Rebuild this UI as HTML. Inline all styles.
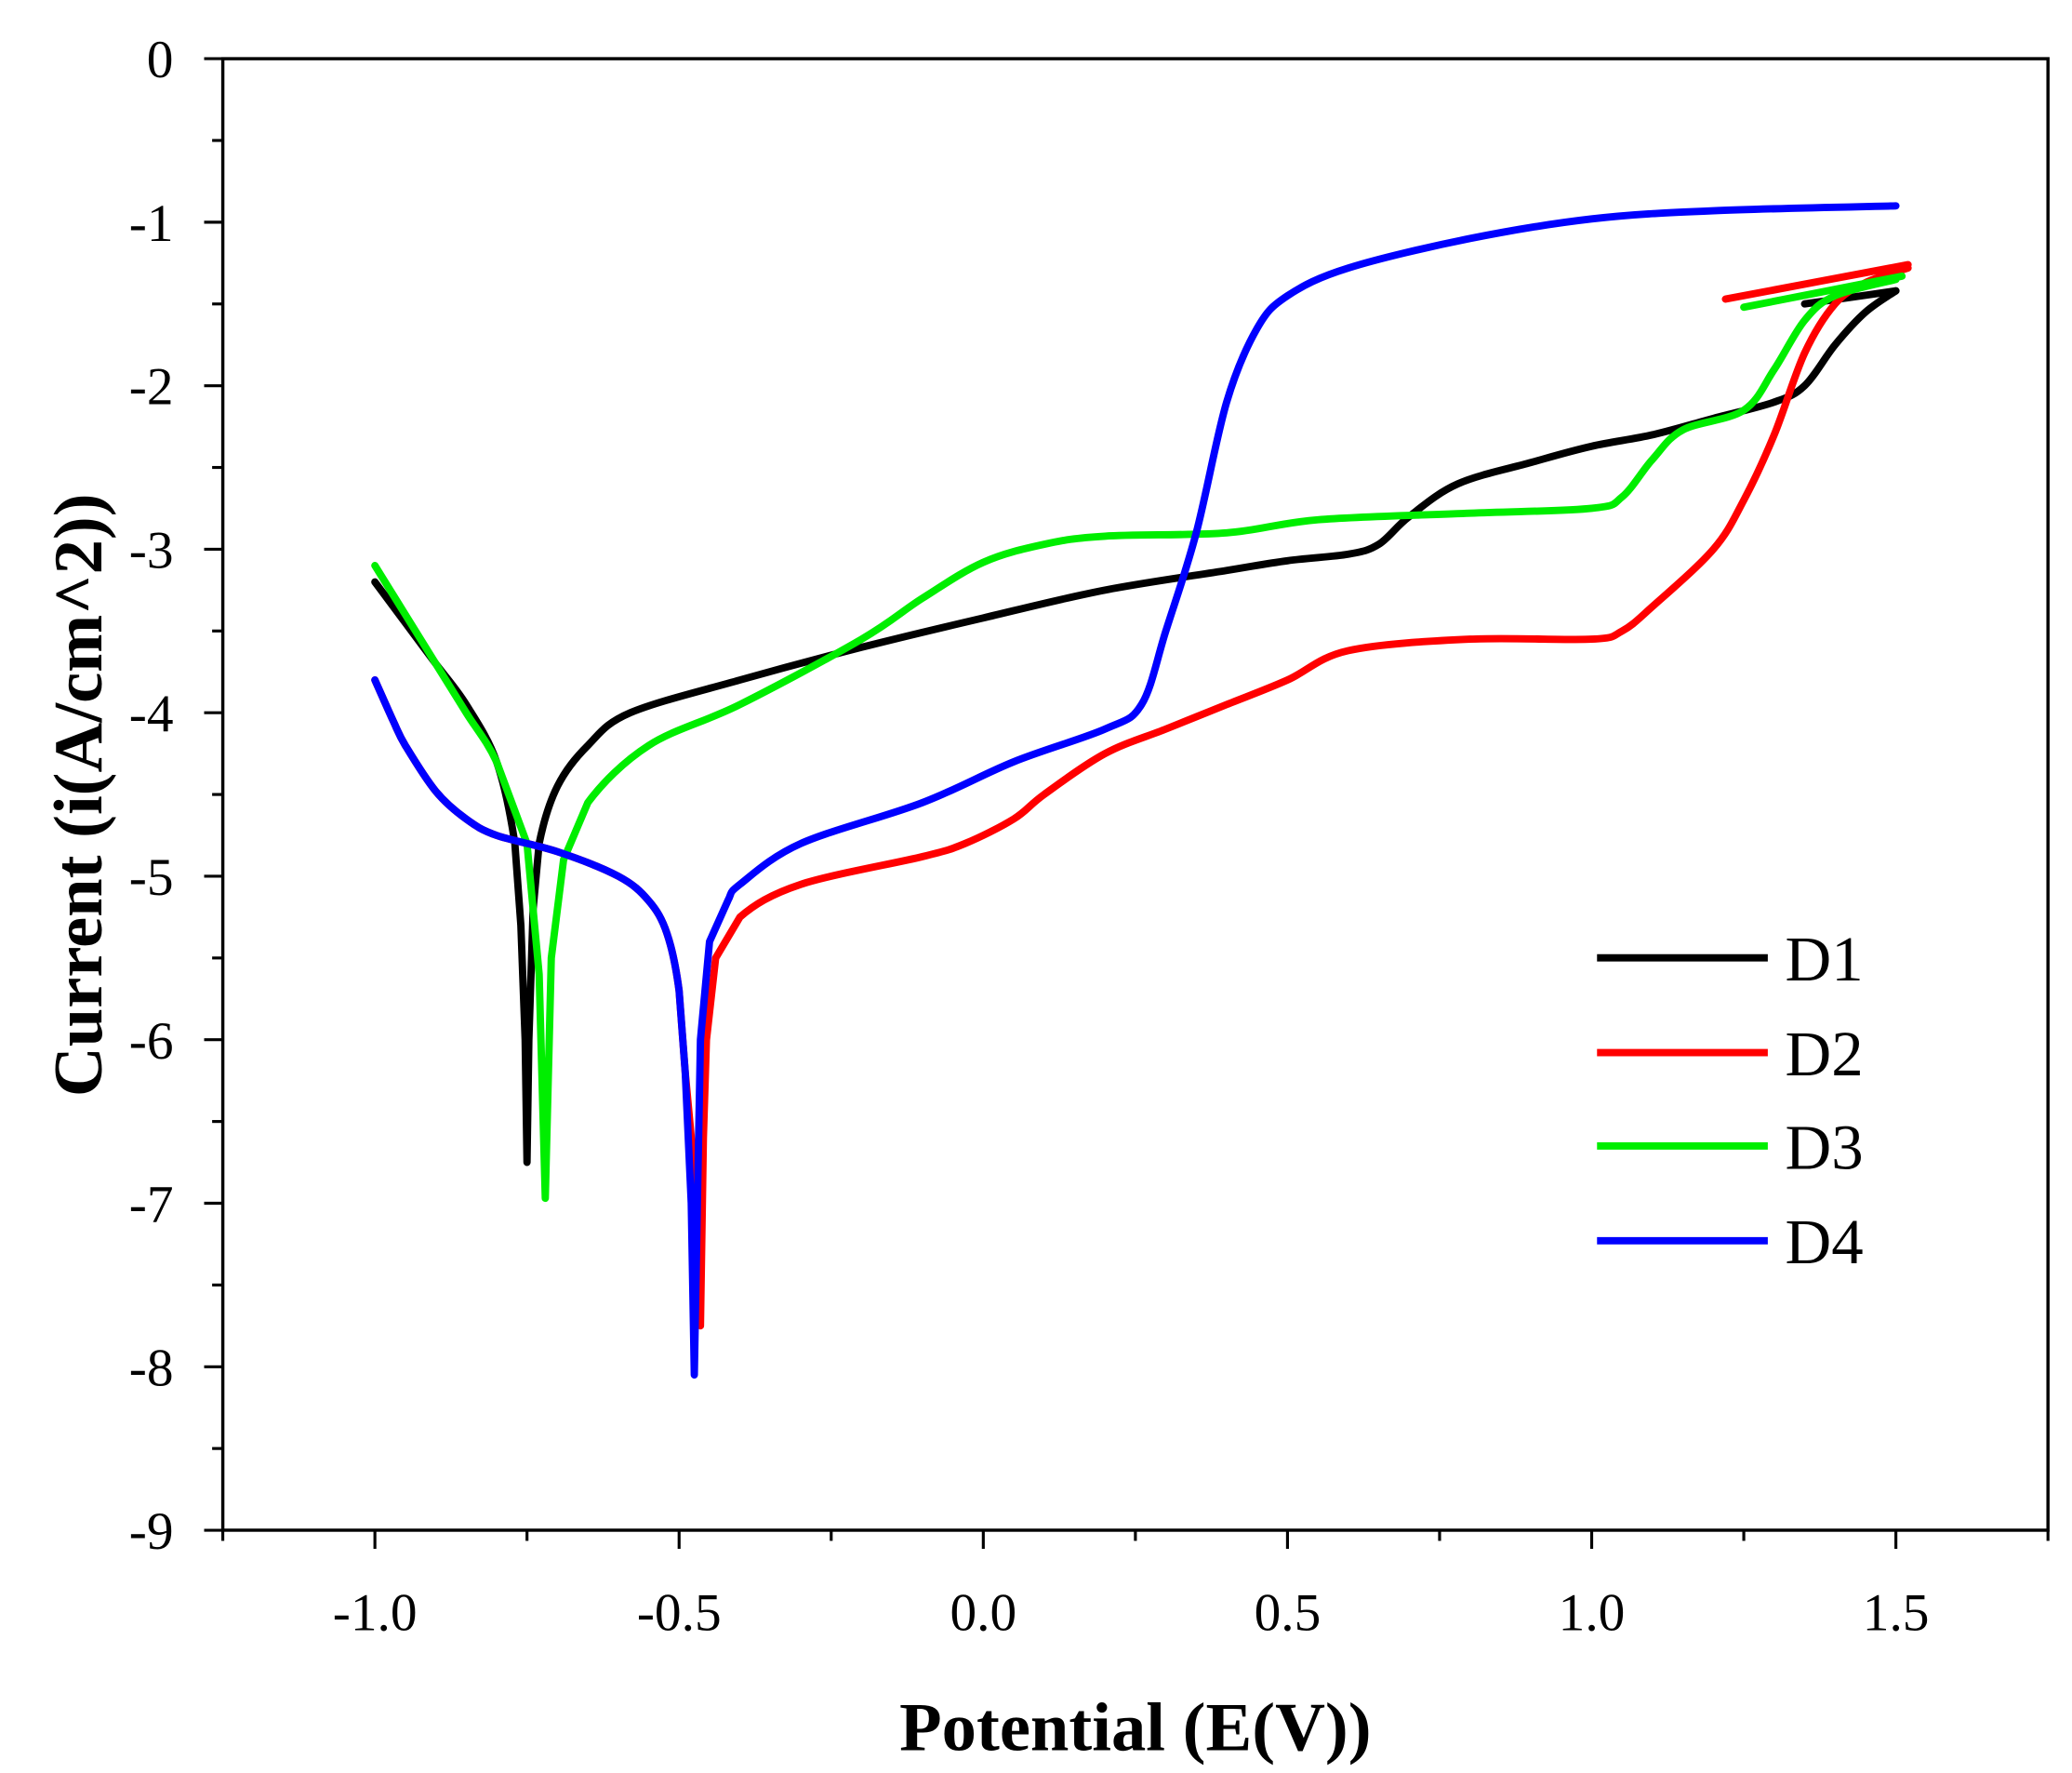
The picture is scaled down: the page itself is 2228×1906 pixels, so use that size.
<!DOCTYPE html>
<html><head><meta charset="utf-8"><style>
html,body{margin:0;padding:0;background:#fff;}
svg{display:block;}
text{font-family:"Liberation Serif",serif;fill:#000;}
</style></head><body>
<svg id="s" width="2228" height="1906" viewBox="0 0 1553 1329" preserveAspectRatio="none" xmlns="http://www.w3.org/2000/svg">
<rect x="167" y="44" width="1368" height="1103" fill="none" stroke="#000" stroke-width="2.4"/>
<g id="ticks" stroke="#000" stroke-width="2.2"></g>
<g id="labels" font-size="40" text-anchor="middle"></g>
<g id="curves" fill="none" stroke-width="5.5" stroke-linejoin="round" stroke-linecap="round"></g>
<text x="851" y="1312" font-size="52" font-weight="bold" text-anchor="middle">Potential (E(V))</text>
<text transform="translate(76,596) rotate(-90)" font-size="52" font-weight="bold" text-anchor="middle">Current (i(A/cm^2))</text>
<g stroke-width="5.5">
<line x1="1197" y1="718" x2="1325" y2="718" stroke="#000"/>
<line x1="1197" y1="789" x2="1325" y2="789" stroke="#ff0000"/>
<line x1="1197" y1="859" x2="1325" y2="859" stroke="#00ee00"/>
<line x1="1197" y1="930" x2="1325" y2="930" stroke="#0000ff"/>
</g>
<g font-size="48">
<text x="1338" y="735">D1</text><text x="1338" y="806">D2</text>
<text x="1338" y="876">D3</text><text x="1338" y="947">D4</text>
</g>
</svg>
<script>
var X=function(e){return 737+456*e;},Y=function(i){return 44-122.56*i;};
var NS="http://www.w3.org/2000/svg";
function el(p,t,a,txt){var e=document.createElementNS(NS,t);for(var k in a)e.setAttribute(k,a[k]);if(txt!=null)e.textContent=txt;document.getElementById(p).appendChild(e);}
for(var k=-5;k<=7;k++){var e=k*0.25,x=X(e);if(x<167||x>1535)continue;var maj=(k%2==0);
el("ticks","line",{x1:x,y1:1147,x2:x,y2:1147+(maj?14:8)});
if(maj&&e>=-1)el("labels","text",{x:x,y:1222},e.toFixed(1));}
for(var k=0;k<=18;k++){var v=-k*0.5,y=Y(v),maj=(k%2==0);
el("ticks","line",{x1:167,y1:y,x2:167-(maj?14:8),y2:y});
if(maj)el("labels","text",{x:130,y:y+14,"text-anchor":"end"},k==0?"0":String(v));}
function path(pts,c,sharp){var P=pts.map(function(p){return [X(p[0]),Y(p[1])];});
var d="M"+P[0][0].toFixed(1)+","+P[0][1].toFixed(1);
for(var i=0;i<P.length-1;i++){var p0=P[Math.max(i-1,0)],p1=P[i],p2=P[i+1],p3=P[Math.min(i+2,P.length-1)];
if(sharp&&sharp(i)){d+="L"+p2[0].toFixed(1)+","+p2[1].toFixed(1);continue;}
var c1=[p1[0]+(p2[0]-p0[0])/6,p1[1]+(p2[1]-p0[1])/6],c2=[p2[0]-(p3[0]-p1[0])/6,p2[1]-(p3[1]-p1[1])/6];
d+="C"+c1[0].toFixed(1)+","+c1[1].toFixed(1)+" "+c2[0].toFixed(1)+","+c2[1].toFixed(1)+" "+p2[0].toFixed(1)+","+p2[1].toFixed(1);}
el("curves","path",{d:d,stroke:c});}
function sh(a,b){return function(i){return i>=a&&i<b;};}
var leftRB=[[-1,-3.8],[-0.97,-4.05],[-0.95,-4.2],[-0.9,-4.48],[-0.85,-4.65],[-0.8,-4.75],[-0.7,-4.85],[-0.6,-5.0],[-0.55,-5.15],[-0.52,-5.35],[-0.5,-5.7],[-0.49,-6.2]];
path([[-1,-3.2],[-0.95,-3.45],[-0.9,-3.7],[-0.85,-3.95],[-0.8,-4.3],[-0.77,-4.8],[-0.76,-5.3],[-0.753,-6.0],[-0.75,-6.75],[-0.747,-6.0],[-0.74,-5.2],[-0.73,-4.8],[-0.7,-4.45],[-0.65,-4.2],[-0.58,-4.0],[-0.4,-3.8],[-0.2,-3.6],[0,-3.42],[0.2,-3.25],[0.4,-3.13],[0.5,-3.07],[0.6,-3.03],[0.65,-2.97],[0.7,-2.8],[0.78,-2.6],[0.9,-2.47],[1.0,-2.37],[1.1,-2.3],[1.2,-2.2],[1.3,-2.1],[1.35,-2.0],[1.4,-1.75],[1.45,-1.55],[1.5,-1.42]],"#000",sh(5,11));
path([[1.35,-1.5],[1.5,-1.42]],"#000");
path([[1.22,-1.47],[1.52,-1.26]],"#ff0000");
path(leftRB.concat([[-0.475,-6.8],[-0.465,-7.75],[-0.46,-6.6],[-0.455,-6.0],[-0.44,-5.5],[-0.4,-5.25],[-0.3,-5.05],[-0.1,-4.88],[-0.03,-4.8],[0.05,-4.65],[0.1,-4.5],[0.2,-4.25],[0.3,-4.1],[0.4,-3.95],[0.5,-3.8],[0.6,-3.62],[0.8,-3.55],[1.0,-3.55],[1.05,-3.5],[1.1,-3.35],[1.2,-3.0],[1.25,-2.7],[1.3,-2.3],[1.35,-1.8],[1.4,-1.5],[1.45,-1.37],[1.52,-1.28]]),"#ff0000",sh(10,17));
path([[-1,-3.1],[-0.95,-3.4],[-0.9,-3.7],[-0.85,-4.0],[-0.8,-4.3],[-0.75,-4.8],[-0.73,-5.6],[-0.72,-6.97],[-0.71,-5.5],[-0.69,-4.9],[-0.65,-4.55],[-0.55,-4.2],[-0.4,-3.95],[-0.2,-3.55],[-0.1,-3.3],[0,-3.08],[0.1,-2.97],[0.2,-2.92],[0.4,-2.9],[0.55,-2.82],[0.8,-2.78],[1.0,-2.75],[1.05,-2.68],[1.1,-2.45],[1.15,-2.27],[1.25,-2.15],[1.3,-1.9],[1.35,-1.6],[1.4,-1.45],[1.5,-1.35]],"#00ee00",sh(4,10));
path([[1.25,-1.52],[1.51,-1.33]],"#00ee00");
path(leftRB.concat([[-0.48,-7.0],[-0.475,-8.05],[-0.47,-7.0],[-0.465,-6.0],[-0.45,-5.4],[-0.42,-5.15],[-0.4,-5.05],[-0.3,-4.8],[-0.1,-4.55],[0.05,-4.3],[0.2,-4.1],[0.26,-3.95],[0.3,-3.5],[0.35,-2.9],[0.4,-2.1],[0.45,-1.65],[0.5,-1.45],[0.6,-1.28],[0.8,-1.1],[1.0,-0.98],[1.2,-0.93],[1.5,-0.9]]),"#0000ff",sh(10,17));
</script>
</body></html>
